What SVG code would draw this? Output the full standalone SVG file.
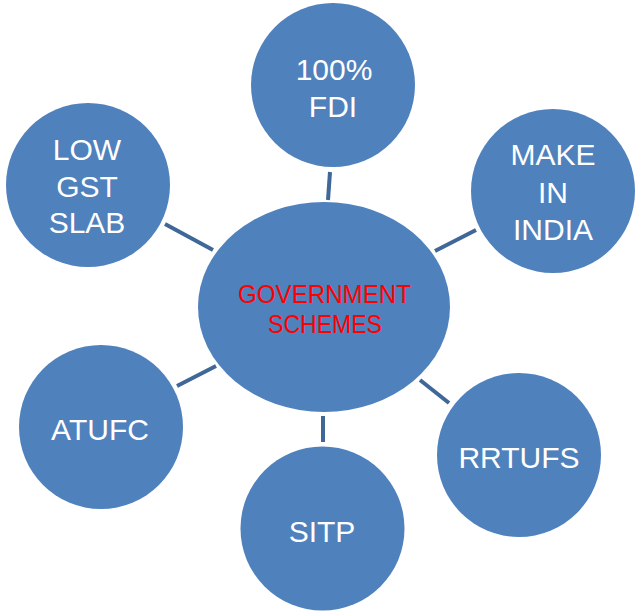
<svg xmlns="http://www.w3.org/2000/svg" width="642" height="615" viewBox="0 0 642 615">
<style>
.n{fill:#4F81BD;}
.t{fill:#FFFFFF;font-family:"Liberation Sans",Arial,sans-serif;font-size:30px;text-anchor:middle;}
.c{fill:#FF0000;font-family:"Liberation Sans",Arial,sans-serif;font-size:26px;text-anchor:middle;}
.l{stroke:#3F6797;stroke-width:4;fill:none;}
</style>
<rect width="642" height="615" fill="#FFFFFF"/>
<g id="connectors">
<line class="l" x1="330" y1="172" x2="328" y2="200"/>
<line class="l" x1="165" y1="224" x2="213" y2="250"/>
<line class="l" x1="435" y1="251" x2="476" y2="230"/>
<line class="l" x1="177" y1="386" x2="216" y2="366"/>
<line class="l" x1="323" y1="416" x2="323" y2="442"/>
<line class="l" x1="420" y1="380" x2="449" y2="403"/>
</g>
<g id="center">
<ellipse class="n" cx="324" cy="307" rx="126" ry="105"/>
<text class="c" x="324.5" y="303" textLength="173" lengthAdjust="spacingAndGlyphs">GOVERNMENT</text>
<text class="c" x="325" y="333" textLength="114" lengthAdjust="spacingAndGlyphs">SCHEMES</text>
</g>
<g id="fdi">
<circle class="n" cx="333" cy="85" r="82"/>
<text class="t" x="334" y="80">100%</text>
<text class="t" x="333" y="117">FDI</text>
</g>
<g id="gst">
<circle class="n" cx="88" cy="185" r="82"/>
<text class="t" x="87" y="160">LOW</text>
<text class="t" x="87" y="197">GST</text>
<text class="t" x="87" y="233">SLAB</text>
</g>
<g id="make">
<circle class="n" cx="553" cy="191" r="82"/>
<text class="t" x="553" y="165">MAKE</text>
<text class="t" x="553" y="203">IN</text>
<text class="t" x="553" y="240">INDIA</text>
</g>
<g id="atufc">
<circle class="n" cx="101" cy="427" r="82"/>
<text class="t" x="100" y="440">ATUFC</text>
</g>
<g id="sitp">
<circle class="n" cx="322.5" cy="528.5" r="82"/>
<text class="t" x="322" y="542">SITP</text>
</g>
<g id="rrtufs">
<circle class="n" cx="519" cy="455" r="82"/>
<text class="t" x="519" y="468">RRTUFS</text>
</g>
</svg>
